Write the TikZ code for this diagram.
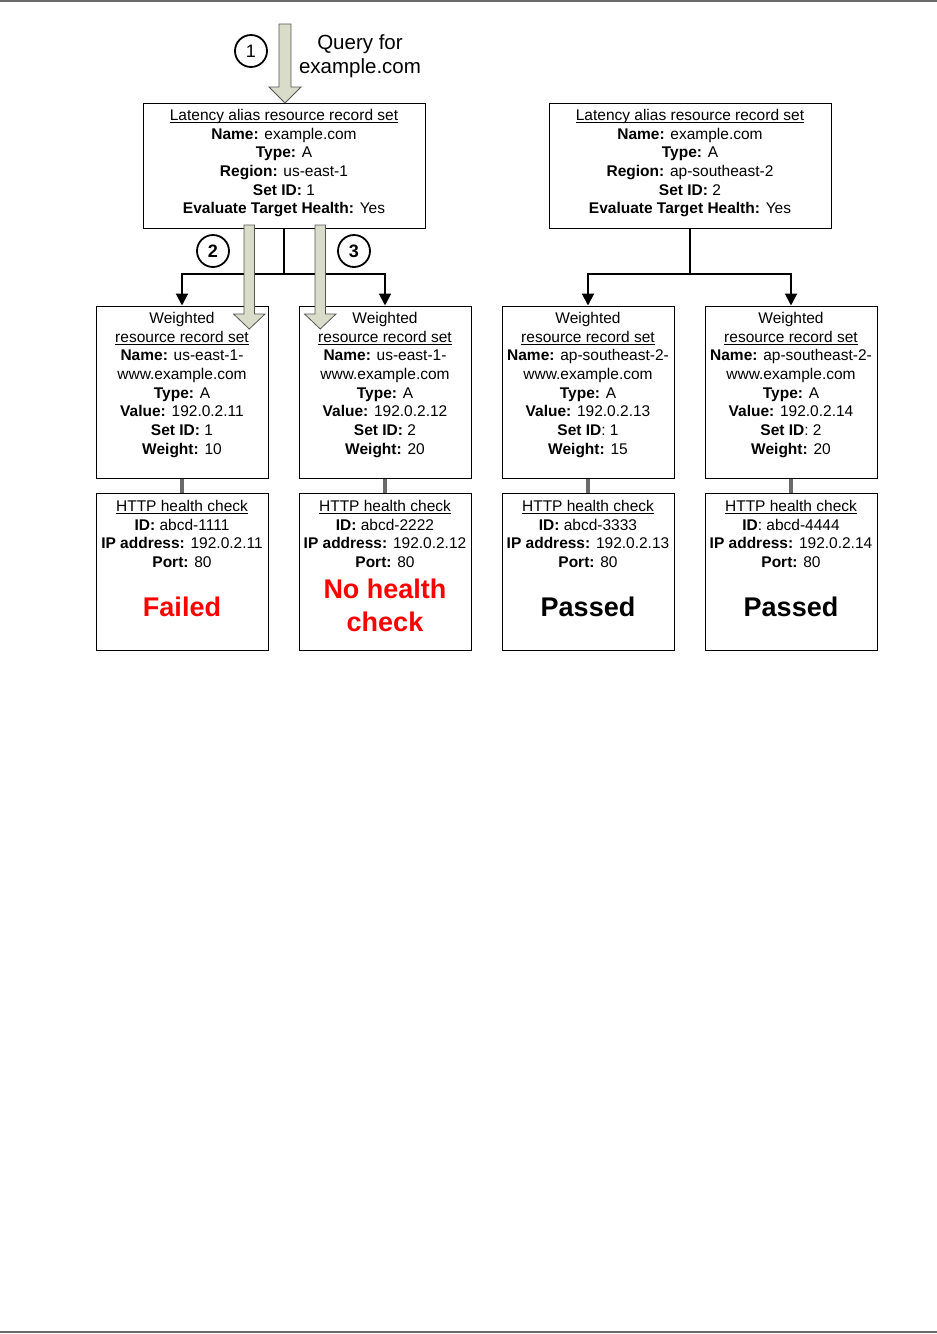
\documentclass[tikz,border=0pt]{standalone}
\usepackage{fontspec}
\setmainfont{Liberation Sans}
\usetikzlibrary{arrows.meta}
\newcommand\ulx[1]{\setbox0\hbox{#1}\rlap{\rule[-2.4pt]{\wd0}{0.9pt}}\box0}
\definecolor{arrowfill}{HTML}{D9DCC9}
\definecolor{arrowline}{HTML}{555555}
\definecolor{rulegray}{HTML}{6A6A6A}
\begin{document}
\begin{tikzpicture}[x=1pt,y=-1pt,
  bigbox/.style={draw=black,line width=1pt,minimum width=282pt,minimum height=125pt,inner sep=0pt},
  wbox/.style={draw=black,line width=1pt,minimum width=172pt,minimum height=172pt,inner sep=0pt},
  hbox/.style={draw=black,line width=1pt,minimum width=172pt,minimum height=157pt,inner sep=0pt},
  txt/.style={anchor=north,align=center,inner sep=0pt,font=\fontsize{15.5}{18.7}\selectfont},
  bigtxt/.style={anchor=base,inner sep=0pt,font=\fontsize{27}{33}\selectfont\bfseries},
  circ/.style={draw=black,circle,line width=1.8pt,minimum size=32pt,inner sep=0pt,font=\fontsize{18}{18}\selectfont},
  conn/.style={draw=black,line width=2pt},
  tip/.style={-{Triangle[width=12pt,length=12pt]}},
  grayconn/.style={draw=rulegray,line width=3.5pt},
  fat/.style={draw=arrowline,fill=arrowfill,line width=0.8pt,line join=miter}
]
\useasboundingbox (0,0) rectangle (937,1334);
% page rules
\draw[rulegray,line width=2pt] (0,1) -- (937,1);
\draw[rulegray,line width=2pt] (0,1332) -- (937,1332);

% top boxes
\node[bigbox] (tl) at (284,165.5) {};
\node[txt] (tlt) at (284,109) {\ulx{Latency alias resource record set}\\
\textbf{Name:} example.com\\
\textbf{Type:} A\\
\textbf{Region:} us-east-1\\
\textbf{Set ID:} 1\\
\textbf{Evaluate Target Health:} Yes};
\node[bigbox] (tr) at (690,165.5) {};
\node[txt] (trt) at (690,109) {\ulx{Latency alias resource record set}\\
\textbf{Name:} example.com\\
\textbf{Type:} A\\
\textbf{Region:} ap-southeast-2\\
\textbf{Set ID:} 2\\
\textbf{Evaluate Target Health:} Yes};

% weighted boxes
\node[wbox] (w1) at (182,392) {};
\node[wbox] (w2) at (385,392) {};
\node[wbox] (w3) at (588,392) {};
\node[wbox] (w4) at (791,392) {};
\node[txt] (w1t) at (182,312) {Weighted\\ \ulx{resource record set}\\
\textbf{Name:} us-east-1-\\ www.example.com\\ \textbf{Type:} A\\
\textbf{Value:} 192.0.2.11\\ \textbf{Set ID:} 1\\ \textbf{Weight:} 10};
\node[txt] (w2t) at (385,312) {Weighted\\ \ulx{resource record set}\\
\textbf{Name:} us-east-1-\\ www.example.com\\ \textbf{Type:} A\\
\textbf{Value:} 192.0.2.12\\ \textbf{Set ID:} 2\\ \textbf{Weight:} 20};
\node[txt] (w3t) at (588,312) {Weighted\\ \ulx{resource record set}\\
\textbf{Name:} ap-southeast-2-\\ www.example.com\\ \textbf{Type:} A\\
\textbf{Value:} 192.0.2.13\\ \textbf{Set ID}: 1\\ \textbf{Weight:} 15};
\node[txt] (w4t) at (791,312) {Weighted\\ \ulx{resource record set}\\
\textbf{Name:} ap-southeast-2-\\ www.example.com\\ \textbf{Type:} A\\
\textbf{Value:} 192.0.2.14\\ \textbf{Set ID}: 2\\ \textbf{Weight:} 20};

% health check boxes
\node[hbox] (h1) at (182,571.5) {};
\node[hbox] (h2) at (385,571.5) {};
\node[hbox] (h3) at (588,571.5) {};
\node[hbox] (h4) at (791,571.5) {};
\node[txt] (h1t) at (182,500) {\ulx{HTTP health check}\\ \textbf{ID:} abcd-1111\\
\textbf{IP address:} 192.0.2.11\\ \textbf{Port:} 80};
\node[txt] (h2t) at (385,500) {\ulx{HTTP health check}\\ \textbf{ID:} abcd-2222\\
\textbf{IP address:} 192.0.2.12\\ \textbf{Port:} 80};
\node[txt] (h3t) at (588,500) {\ulx{HTTP health check}\\ \textbf{ID:} abcd-3333\\
\textbf{IP address:} 192.0.2.13\\ \textbf{Port:} 80};
\node[txt] (h4t) at (791,500) {\ulx{HTTP health check}\\ \textbf{ID}: abcd-4444\\
\textbf{IP address:} 192.0.2.14\\ \textbf{Port:} 80};
\node[bigtxt,text=red] (s1) at (182,616) {Failed};
\node[bigtxt,text=red] (s2a) at (385,598) {No health};
\node[bigtxt,text=red] (s2b) at (385,631) {check};
\node[bigtxt] (s3) at (588,616) {Passed};
\node[bigtxt] (s4) at (791,616) {Passed};

% gray links
\foreach \i in {1,2,3,4} \draw[grayconn] (w\i.south) -- (h\i.north);

% tree connectors
\coordinate (jl) at (284,274);
\coordinate (jr) at (690,274);
\draw[conn] (tl.south) -- (jl);
\draw[conn,tip] (jl) -| (w1.north);
\draw[conn,tip] (jl) -| (w2.north);
\draw[conn] (tr.south) -- (jr);
\draw[conn,tip] (jr) -| (w3.north);
\draw[conn,tip] (jr) -| (w4.north);

% query text and circled numbers
\node[anchor=north,align=center,inner sep=0pt,font=\fontsize{20.5}{24}\selectfont] (q) at (360,34.5) {Query for\\example.com};
\node[circ] (c1) at (251,51) {1};
\node[circ,font=\fontsize{18}{18}\selectfont\bfseries] (c2) at (213,251) {2};
\node[circ,font=\fontsize{18}{18}\selectfont\bfseries] (c3) at (354,251) {3};

% big hollow arrows
\draw[fat] (279,24) -- (291,24) -- (291,87) -- (301,87) -- (285,103) -- (269,87) -- (279,87) -- cycle;
\draw[fat] (244,225) -- (254.5,225) -- (254.5,314) -- (265,314) -- (249.25,329) -- (233.5,314) -- (244,314) -- cycle;
\draw[fat] (315,225) -- (325.5,225) -- (325.5,314) -- (336,314) -- (320.25,329) -- (304.5,314) -- (315,314) -- cycle;
\end{tikzpicture}
\end{document}
